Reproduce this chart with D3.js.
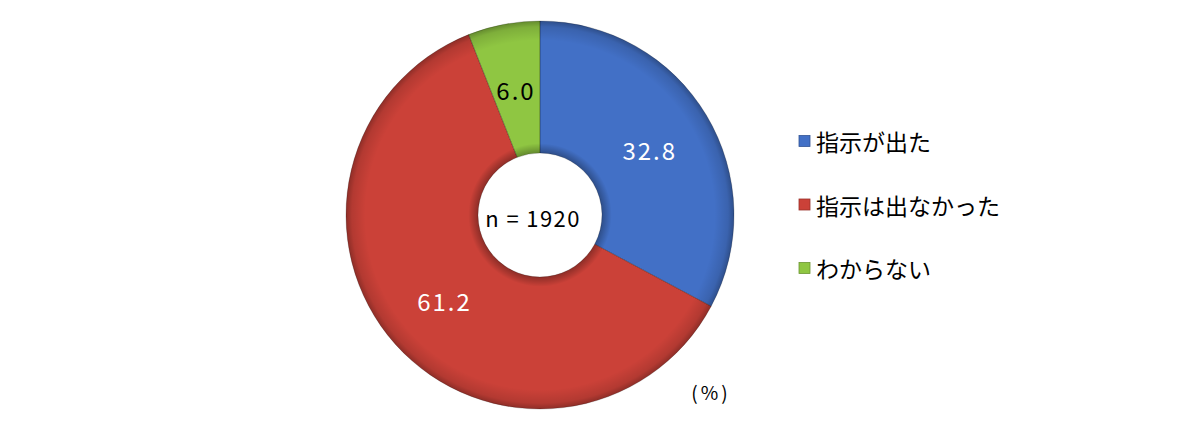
<!DOCTYPE html>
<html><head><meta charset="utf-8">
<script src="https://cdn.jsdelivr.net/npm/d3@7"></script>
<style>html,body{margin:0;padding:0;background:#fff;}svg{display:block;}</style>
</head><body>
<svg id="chart" width="1200" height="438"></svg>
<script>
const categories = ["指示が出た", "指示は出なかった", "わからない"];
const values = [32.8, 61.2, 6.0];
const colors = ["#4270c6", "#cb4138", "#8fc642"];
const labelColors = ["#fff", "#fff", "#000"];
const sampleLabel = "n = 1920";
const unitLabel = "(%)";

const svg = d3.select("#chart");
const cx = 540, cy = 215, outerR = 194, innerR = 62;
const FONT = "'Noto Sans CJK JP', 'Noto Sans', sans-serif";

const defs = svg.append("defs");
const grad = defs.append("radialGradient").attr("id", "bevel")
  .attr("gradientUnits", "userSpaceOnUse").attr("cx", 0).attr("cy", 0).attr("r", outerR);
[[0, 0.3], [innerR / outerR, 0.3], [innerR / outerR + 0.05, 0.0], [0.9, 0.0], [0.97, 0.12], [1, 0.3]]
  .forEach(([o, a]) => grad.append("stop").attr("offset", o).attr("stop-color", "#000").attr("stop-opacity", a));

const pie = d3.pie().sort(null).value(d => d)(values);
const arc = d3.arc().innerRadius(innerR).outerRadius(outerR);
const g = svg.append("g").attr("transform", `translate(${cx},${cy})`);

g.selectAll("path.slice").data(pie).enter().append("path").attr("class", "slice")
  .attr("d", arc).attr("fill", (d, i) => colors[i]);
g.selectAll("path.shade").data(pie).enter().append("path").attr("class", "shade")
  .attr("d", arc).attr("fill", "url(#bevel)")
  .attr("stroke", "rgba(0,0,0,0.25)").attr("stroke-width", 0.8);

g.selectAll("text.val").data(pie).enter().append("text").attr("class", "val")
  .attr("transform", d => `translate(${arc.centroid(d)})`)
  .attr("text-anchor", "middle").attr("dominant-baseline", "central")
  .attr("font-family", FONT).attr("font-size", 24).attr("letter-spacing", 2)
  .attr("fill", (d, i) => labelColors[i])
  .text(d => d.data.toFixed(1));

g.append("text").attr("x", -7).attr("y", 2)
  .attr("text-anchor", "middle").attr("dominant-baseline", "central")
  .attr("font-family", FONT).attr("font-size", 22).attr("letter-spacing", 1.4)
  .attr("fill", "#000").text(sampleLabel);

const legend = svg.append("g");
const rowY = d3.scalePoint().domain(categories).range([141, 268]);
categories.forEach((c, i) => {
  const y = rowY(c);
  legend.append("rect").attr("x", 799).attr("y", y - 5.5).attr("width", 11).attr("height", 11)
    .attr("fill", colors[i]).attr("stroke", d3.color(colors[i]).darker(0.8)).attr("stroke-width", 0.8);
  legend.append("text").attr("x", 816).attr("y", y).attr("dominant-baseline", "central")
    .attr("font-family", FONT).attr("font-size", 23).attr("fill", "#000").text(c);
});

svg.append("text").attr("x", 711).attr("y", 391).attr("text-anchor", "middle")
  .attr("dominant-baseline", "central").attr("font-family", FONT).attr("font-size", 19)
  .attr("letter-spacing", 3).attr("fill", "#000").text(unitLabel);
</script>
</body></html>
